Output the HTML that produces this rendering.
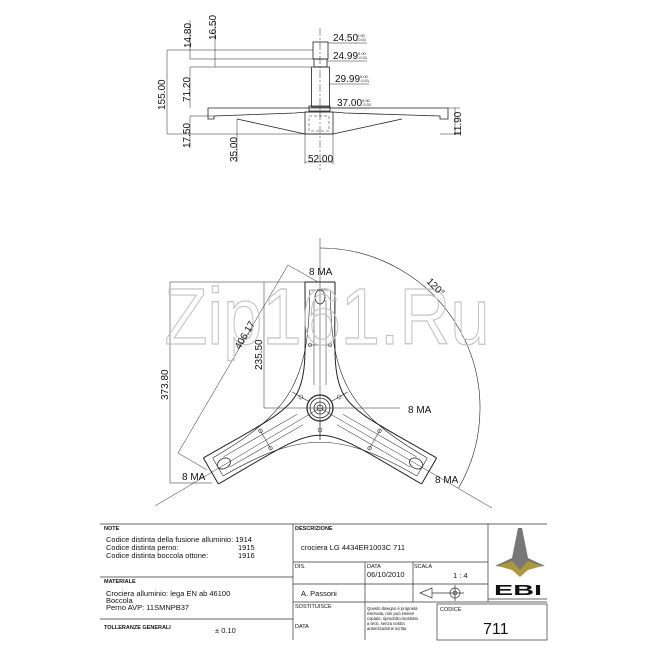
<!DOCTYPE html>
<html><head><style>body{margin:0;background:#fff}svg{display:block}text{font-family:"Liberation Sans",Arial,sans-serif}</style></head><body>
<svg width="650" height="650" viewBox="0 0 650 650" xmlns="http://www.w3.org/2000/svg">
<rect width="650" height="650" fill="#fff"/>
<g stroke="#222" stroke-width="0.8" fill="none">
<!-- top view -->
<line x1="320" y1="28" x2="320" y2="170" stroke-dasharray="8,2,2,2" stroke-width="0.5"/>
<rect x="313" y="42" width="15" height="17"/>
<rect x="314" y="59" width="13" height="8"/>
<rect x="311.5" y="67" width="18" height="40"/>
<rect x="309" y="106" width="21" height="5"/>
<path d="M208,108 L448,108 L448,119 L440,119 L440,116 L345,113 L333,112 L307,112 L295,113 L214,116 L214,119 L208,119 Z"/>
<path d="M237,119 L305,134 L333,134 L402,119"/>
<rect x="305" y="112" width="28" height="22"/>
<rect x="309" y="116" width="20" height="15" stroke-dasharray="3,2" stroke-width="0.5"/>
<line x1="305" y1="134" x2="305" y2="164" stroke-width="0.5"/>
<line x1="333" y1="134" x2="333" y2="164" stroke-width="0.5"/>
<line x1="305" y1="162" x2="333" y2="162" stroke-width="0.5"/>
<g stroke-width="0.5">
<line x1="167" y1="50" x2="167" y2="134"/>
<line x1="167" y1="50" x2="313" y2="50"/>
<line x1="190" y1="59" x2="313" y2="59"/>
<line x1="190" y1="67" x2="311" y2="67"/>
<line x1="190" y1="20" x2="190" y2="59"/>
<line x1="215" y1="20" x2="215" y2="67"/>
<line x1="190" y1="67" x2="190" y2="108"/>
<line x1="190" y1="116" x2="190" y2="148"/>
<line x1="190" y1="116" x2="214" y2="116"/>
<line x1="167" y1="134" x2="305" y2="134"/>
<line x1="237" y1="119" x2="237" y2="162"/>
<line x1="328" y1="43" x2="367" y2="43"/><line x1="327" y1="61" x2="367" y2="61"/>
<line x1="330" y1="84" x2="369" y2="84"/><line x1="330" y1="108" x2="370" y2="108"/>
<line x1="448" y1="108" x2="460" y2="108"/><line x1="440" y1="134" x2="460" y2="134"/>
<line x1="455" y1="108" x2="455" y2="134"/>
</g>
<!-- spider -->
<line x1="320" y1="238" x2="320" y2="440" stroke-width="0.5"/>
<line x1="155" y1="506" x2="320" y2="408" stroke-width="0.5"/>
<line x1="320" y1="408" x2="492" y2="508" stroke-width="0.5"/>
<path d="M320,248 A160,160 0 0 1 458.6,488" stroke-width="0.6"/>
<g id="seg">
<line x1="305" y1="282" x2="335" y2="282" stroke-width="1"/>
<path d="M421.6,484 C309,419 331,419 218.4,484" stroke-width="1"/>
<line x1="310" y1="290" x2="330" y2="290" stroke-width="0.6"/>
<path d="M417,476 C339,431 301,431 223,476" stroke-width="0.6"/>
<path d="M314,300 L314,385 M326,300 L326,385" stroke-width="0.5"/>
<ellipse cx="320" cy="297" rx="5" ry="7"/>
<line x1="308" y1="345" x2="332" y2="345" stroke-width="0.5"/>
<circle cx="310" cy="345" r="1.8" stroke-width="0.5"/><circle cx="330" cy="345" r="1.8" stroke-width="0.5"/>
<line x1="320" y1="421" x2="320" y2="440" stroke-width="0.5"/>
<circle cx="320" cy="430" r="2" stroke-width="0.5"/>
</g>
<use href="#seg" transform="rotate(120 320 408)"/>
<use href="#seg" transform="rotate(240 320 408)"/>
<line x1="335" y1="282" x2="335" y2="282"/>
<circle cx="320" cy="408" r="13" stroke-width="1.2"/><circle cx="320" cy="408" r="10"/><circle cx="320" cy="408" r="6"/><circle cx="320" cy="408" r="3"/>
<g stroke-width="0.5">
<line x1="170" y1="282" x2="335" y2="282"/>
<line x1="170" y1="282" x2="170" y2="483"/>
<line x1="170" y1="483" x2="212" y2="483"/>
<line x1="264" y1="282" x2="264" y2="408"/>
<line x1="264" y1="408" x2="400" y2="408"/>
<line x1="288" y1="265" x2="178" y2="453"/>
<line x1="288" y1="265" x2="318" y2="282"/>
<line x1="178" y1="453" x2="207" y2="470"/>
</g>
</g>
<text x="327" y="344" font-size="80" fill="none" stroke="#c4c4c4" stroke-width="1.2" text-anchor="middle" textLength="325" lengthAdjust="spacingAndGlyphs">Zip161.Ru</text>
<g font-size="10" fill="#111">
<text transform="translate(191,48) rotate(-90)">14.80</text>
<text transform="translate(216,40) rotate(-90)">16.50</text>
<text transform="translate(165,110) rotate(-90)">155.00</text>
<text transform="translate(190,102) rotate(-90)">71.20</text>
<text transform="translate(190,148) rotate(-90)">17.50</text>
<text transform="translate(237,162) rotate(-90)">35.00</text>
<text x="308" y="162">52.00</text>
<text transform="translate(461,136) rotate(-90)">11.90</text>
<text x="333" y="41">24.50</text><text x="333" y="59">24.99</text>
<text x="335" y="82">29.99</text><text x="337" y="106">37.00</text>
<text transform="translate(168,400) rotate(-90)">373.80</text>
<text transform="translate(262,370) rotate(-90)">235.50</text>
<text transform="translate(240,350) rotate(-60)">406.17</text>
<text transform="translate(426,282) rotate(45)">120°</text>
<text x="309" y="275">8 MA</text>
<text x="408" y="413">8 MA</text>
<text x="182" y="480">8 MA</text>
<text x="435" y="483">8 MA</text>
</g>
<g font-size="4" fill="#111">
<text x="357" y="37">0.00</text><text x="357" y="41">-0.01</text>
<text x="358" y="55">0.00</text><text x="358" y="59">-0.01</text>
<text x="360" y="78">0.00</text><text x="360" y="82">-0.01</text>
<text x="362" y="102">0.00</text><text x="362" y="106">-0.01</text>
</g>
<!-- title block -->
<g stroke="#333" stroke-width="0.7" fill="none">
<line x1="100" y1="524" x2="547" y2="524"/>
<line x1="100" y1="577" x2="293" y2="577"/>
<line x1="100" y1="619" x2="293" y2="619"/>
<line x1="293" y1="524" x2="293" y2="640"/>
<line x1="488" y1="524" x2="488" y2="602"/>
<line x1="293" y1="562" x2="488" y2="562"/>
<line x1="293" y1="584" x2="488" y2="584"/>
<line x1="293" y1="602" x2="547" y2="602"/>
<line x1="365" y1="562" x2="365" y2="640"/>
<line x1="413" y1="562" x2="413" y2="602"/>
<rect x="437" y="604" width="110" height="36"/>
<line x1="488" y1="599" x2="547" y2="599"/>
<path d="M420,593 L432,588 L432,598 Z M432,593 L446,593"/>
<circle cx="455" cy="593" r="5"/><circle cx="455" cy="593" r="2"/>
<line x1="446" y1="593" x2="464" y2="593"/><line x1="455" y1="585" x2="455" y2="601"/>
</g>
<g fill="#111">
<text x="104" y="530" font-size="5.5" font-weight="bold">NOTE</text>
<text x="104" y="583" font-size="5.5" font-weight="bold">MATERIALE</text>
<text x="104" y="629" font-size="5.5" font-weight="bold">TOLLERANZE GENERALI</text>
<text x="295" y="530" font-size="5.5" font-weight="bold">DESCRIZIONE</text>
<text x="295" y="568" font-size="5.5">DIS.</text>
<text x="367" y="568" font-size="5.5">DATA</text>
<text x="414" y="568" font-size="5.5">SCALA</text>
<text x="295" y="608" font-size="5.5">SOSTITUISCE</text>
<text x="295" y="628" font-size="5.5">DATA</text>
<text x="440" y="611" font-size="5.5">CODICE</text>
<g font-size="7.5">
<text x="106" y="542">Codice distinta della fusione alluminio: 1914</text>
<text x="106" y="550">Codice distinta perno:</text><text x="238" y="550">1915</text>
<text x="106" y="558">Codice distinta boccola ottone:</text><text x="238" y="558">1916</text>
<text x="106" y="596">Crociera alluminio: lega EN ab 46100</text>
<text x="106" y="603">Boccola</text>
<text x="106" y="610">Perno AVP: 11SMNPB37</text>
<text x="215" y="633">± 0.10</text>
<text x="301" y="550">crociera LG 4434ER1003C 711</text>
<text x="367" y="577">06/10/2010</text>
<text x="453" y="578">1 : 4</text>
<text x="301" y="596">A. Passoni</text>
</g>
<g font-size="4.2"><text x="367" y="610">Questo disegno è proprietà</text><text x="367" y="615">riservata, non può essere</text><text x="367" y="620">copiato, riprodotto,mostrato</text><text x="367" y="625">a terzi, senza nostra</text><text x="367" y="630">autorizzazione scritta</text></g>
<text x="483" y="634" font-size="16">711</text>
<path d="M518,528 L522,528 L528,558 L545,566 L528,568 L520,576 L512,568 L495,566 L512,558 Z" fill="#777"/>
<path d="M498,566 L512,561 L520,570 L528,561 L542,566 L528,570 L520,577 L512,570 Z" fill="#a9993c"/>
<text x="518" y="595" font-size="15" font-weight="bold" text-anchor="middle" textLength="48" lengthAdjust="spacingAndGlyphs">EBI</text>
</g>
</svg>
</body></html>
